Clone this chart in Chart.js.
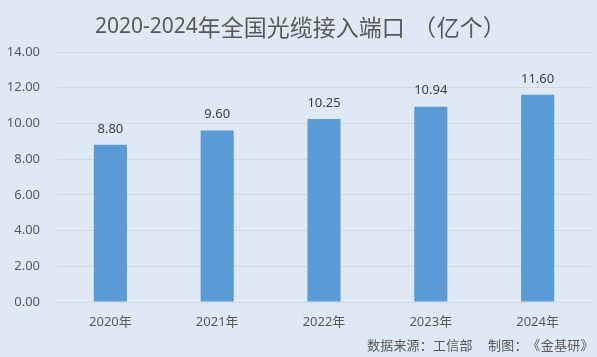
<!DOCTYPE html>
<html>
<head>
<meta charset="utf-8">
<script src="https://cdn.jsdelivr.net/npm/chart.js@4/dist/chart.umd.min.js"></script>
<style>
html,body{margin:0;padding:0;background:#dee9f5;}
#wrap{width:597px;height:357px;}
</style>
</head>
<body>
<div id="wrap"><canvas id="c" width="597" height="357"></canvas></div>
<script>
const categories = ['2020年','2021年','2022年','2023年','2024年'];
const values = [8.80, 9.60, 10.25, 10.94, 11.60];
const titleText = '2020-2024年全国光缆接入端口（亿个）';
const sourceParts = ['数据来源：工信部', '制图：《金基研》'];

const FONT = '"Noto Sans", "Noto Sans CJK SC", sans-serif';
const CJK = '"Noto Sans CJK SC", sans-serif';

function isWide(ch) {
  const c = ch.codePointAt(0);
  return (c >= 0x3000 && c <= 0x9fff) || (c >= 0xff00 && c <= 0xffef);
}
// draws text with full-width cells for CJK chars, returns end x
function drawRun(ctx, text, x, y, latinSize, size, cell, openCell) {
  for (const ch of text) {
    if (isWide(ch)) {
      ctx.font = size + 'px ' + CJK;
      if ('（《「【'.includes(ch)) {
        const w = openCell || cell;
        ctx.textAlign = 'right';
        ctx.fillText(ch, x + w - size * 0.04, y);
        x += w;
      } else {
        ctx.textAlign = 'left';
        ctx.fillText(ch, x, y);
        x += cell;
      }
    } else {
      ctx.font = latinSize + 'px ' + FONT;
      ctx.textAlign = 'left';
      ctx.fillText(ch, x, y);
      x += ctx.measureText(ch).width;
    }
  }
  return x;
}

const overlay = {
  id: 'overlay',
  beforeDraw(chart) {
    const ctx = chart.ctx;
    ctx.save();
    ctx.fillStyle = '#dee9f5';
    ctx.fillRect(0, 0, chart.width, chart.height);
    ctx.restore();
  },
  afterDatasetsDraw(chart) {
    const ctx = chart.ctx;
    ctx.save();
    // data labels
    ctx.font = '13px ' + FONT;
    ctx.fillStyle = '#404040';
    ctx.textAlign = 'center';
    ctx.textBaseline = 'middle';
    chart.getDatasetMeta(0).data.forEach((bar, i) => {
      ctx.fillText(values[i].toFixed(2), bar.x, bar.y - 16);
    });
    // title
    ctx.fillStyle = '#595959';
    drawRun(ctx, titleText, 95, 27.5, 21, 23, 23, 32);
    // source
    let x = drawRun(ctx, sourceParts[0], 367, 345.5, 13, 13, 13.2);
    drawRun(ctx, sourceParts[1], x + 15.4, 345.5, 13, 13, 13.2);
    ctx.restore();
  }
};

new Chart(document.getElementById('c'), {
  type: 'bar',
  data: {
    labels: categories,
    datasets: [{
      data: values,
      backgroundColor: '#5b9bd5',
      categoryPercentage: 1.0,
      barPercentage: 0.31
    }]
  },
  options: {
    responsive: false,
    animation: false,
    devicePixelRatio: 1,
    layout: { padding: { top: 52, right: 6, left: 0, bottom: 0 } },
    plugins: { legend: { display: false }, tooltip: { enabled: false } },
    scales: {
      x: {
        grid: { display: false, drawTicks: false },
        border: { display: false },
        ticks: { color: '#595959', font: { size: 13, family: FONT }, padding: 12 },
        afterFit(axis) { axis.height = 55; }
      },
      y: {
        min: 0, max: 14,
        ticks: {
          stepSize: 2,
          color: '#595959',
          font: { size: 13, family: FONT },
          padding: 17,
          callback: v => v.toFixed(2)
        },
        grid: { color: '#d3d6da', drawTicks: false, lineWidth: 1 },
        border: { display: false },
        afterFit(axis) { axis.width = 57; }
      }
    }
  },
  plugins: [overlay]
});
</script>
</body>
</html>
